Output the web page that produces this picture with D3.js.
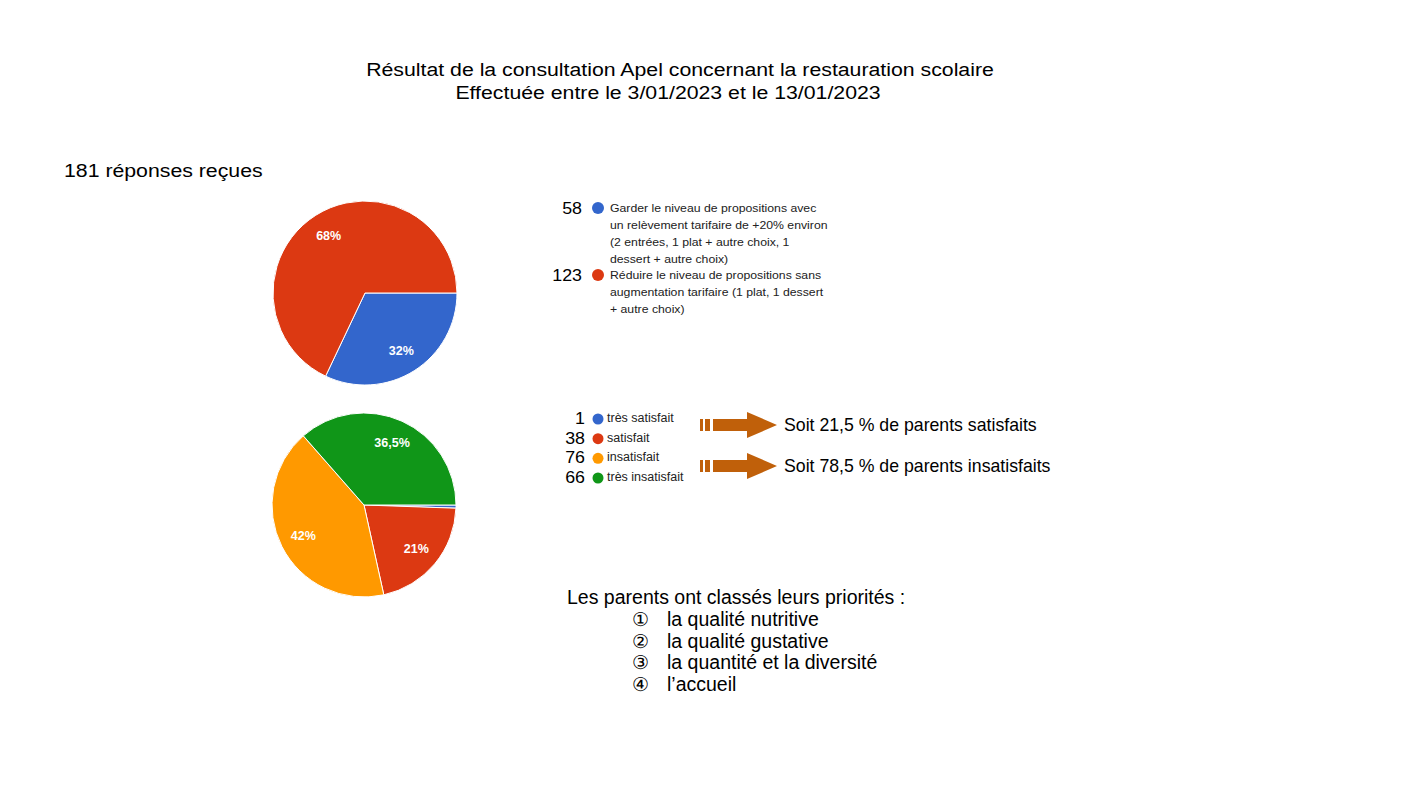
<!DOCTYPE html>
<html>
<head>
<meta charset="utf-8">
<script src="https://cdn.jsdelivr.net/npm/d3@7"></script>
<style>
  body { margin: 0; background: #fff; }
</style>
</head>
<body>
<div id="chart"></div>
<script>
var svgWidth = 1411;
var svgHeight = 794;
var baseFont = "'Liberation Sans', Arial, sans-serif";

// data
var titleLines = ["Résultat de la consultation Apel concernant la restauration scolaire",
  "Effectuée entre le 3/01/2023 et le 13/01/2023"];
var totalLabel = "181 réponses reçues";

var q1Labels = [
  ["Garder le niveau de propositions avec", "un relèvement tarifaire de +20% environ", "(2 entrées, 1 plat + autre choix, 1", "dessert + autre choix)"],
  ["Réduire le niveau de propositions sans", "augmentation tarifaire (1 plat, 1 dessert", "+ autre choix)"]
];
var q1Values = [58, 123];
var q1Pct = ["32%", "68%"];
var q1Colors = ["#3366cc", "#dc3912"];

var q2Labels = ["très satisfait", "satisfait", "insatisfait", "très insatisfait"];
var q2Values = [1, 38, 76, 66];
var q2Pct = ["", "21%", "42%", "36,5%"];
var q2Colors = ["#3366cc", "#dc3912", "#ff9900", "#109618"];

var summaryTexts = ["Soit 21,5 % de parents satisfaits", "Soit 78,5 % de parents insatisfaits"];

var priorityTitle = "Les parents ont classés leurs priorités :";
var priorityMarks = ["\u2460", "\u2461", "\u2462", "\u2463"];
var priorities = ["la qualité nutritive", "la qualité gustative", "la quantité et la diversité", "l\u2019accueil"];

var svg = d3.select("#chart")
  .append("svg")
  .attr("width", svgWidth)
  .attr("height", svgHeight);

// text with a horizontal stretch (the slide was widened)
function addText(x, y, str, size, sx, anchor, color) {
  return svg.append("text")
    .attr("transform", `translate(${x}, ${y}) scale(${sx}, 1)`)
    .attr("text-anchor", anchor || "start")
    .style("font-family", baseFont)
    .style("font-size", size + "px")
    .attr("fill", color || "#000")
    .text(str);
}

// title
var titleX = [680, 668];
titleLines.forEach(function(t, i) {
  addText(titleX[i], 76 + i * 23, t, 19, 1.12, "middle");
});

addText(64, 177, totalLabel, 19, 1.12);

// pie helper
var radius = 92;
var pie = d3.pie()
  .sort(null)
  .startAngle(Math.PI / 2)
  .endAngle(Math.PI / 2 + 2 * Math.PI);
var arc = d3.arc().innerRadius(0).outerRadius(radius);
var labelArc = d3.arc().innerRadius(68).outerRadius(68);

function drawPie(cx, cy, values, colors, pcts) {
  var g = svg.append("g").attr("transform", `translate(${cx}, ${cy})`);
  var arcs = pie(values);
  g.selectAll("path")
    .data(arcs)
    .enter()
    .append("path")
    .attr("d", arc)
    .attr("fill", (d, i) => colors[i])
    .attr("stroke", "#fff")
    .attr("stroke-width", 1);
  g.selectAll(".pct")
    .data(arcs)
    .enter()
    .append("text")
    .attr("transform", d => `translate(${labelArc.centroid(d)})`)
    .attr("text-anchor", "middle")
    .attr("dy", "0.35em")
    .style("font-family", baseFont)
    .style("font-size", "12.5px")
    .style("font-weight", "bold")
    .attr("fill", "#fff")
    .text((d, i) => pcts[i]);
}

drawPie(365, 293, q1Values, q1Colors, q1Pct);
drawPie(364, 505, q2Values, q2Colors, q2Pct);

// legend 1
var leg1Y = [207, 274];
q1Values.forEach(function(v, i) {
  var y = leg1Y[i];
  addText(582, y + 7, v, 16.5, 1.08, "end");
  svg.append("circle")
    .attr("cx", 598)
    .attr("cy", y + 1)
    .attr("r", 6)
    .attr("fill", q1Colors[i]);
  q1Labels[i].forEach(function(line, j) {
    addText(610, y + 5 + j * 17, line, 11.8, 1.04, "start", "#222");
  });
});

// legend 2
var leg2Y = d3.scaleLinear().domain([0, 3]).range([418, 477]);
q2Values.forEach(function(v, i) {
  var y = leg2Y(i);
  addText(585, y + 6, v, 16.5, 1.08, "end");
  svg.append("circle")
    .attr("cx", 598)
    .attr("cy", y + 1)
    .attr("r", 5.5)
    .attr("fill", q2Colors[i]);
  addText(607, y + 4, q2Labels[i], 12.5, 1, "start", "#222");
});

// arrows
var arrowColor = "#c0600a";
var arrowY = [425, 466];
arrowY.forEach(function(y, i) {
  var g = svg.append("g").attr("transform", `translate(700, ${y})`);
  g.append("rect").attr("x", 0).attr("y", -6).attr("width", 3).attr("height", 12).attr("fill", arrowColor);
  g.append("rect").attr("x", 5).attr("y", -6).attr("width", 5).attr("height", 12).attr("fill", arrowColor);
  g.append("path")
    .attr("d", "M13,-6 L47,-6 L47,-13 L77,0 L47,13 L47,6 L13,6 Z")
    .attr("fill", arrowColor);
  addText(784, y + 6, summaryTexts[i], 17.7, 1);
});

// priorities
addText(567, 604, priorityTitle, 19.5, 1);

priorities.forEach(function(p, i) {
  var y = 626 + i * 21.5;
  svg.append("text")
    .attr("x", 640)
    .attr("y", y)
    .attr("text-anchor", "middle")
    .style("font-family", "'DejaVu Sans'")
    .style("font-size", "19px")
    .style("font-weight", "200")
    .text(priorityMarks[i]);
  addText(667, y, p, 19.5, 1);
});
</script>
</body>
</html>
